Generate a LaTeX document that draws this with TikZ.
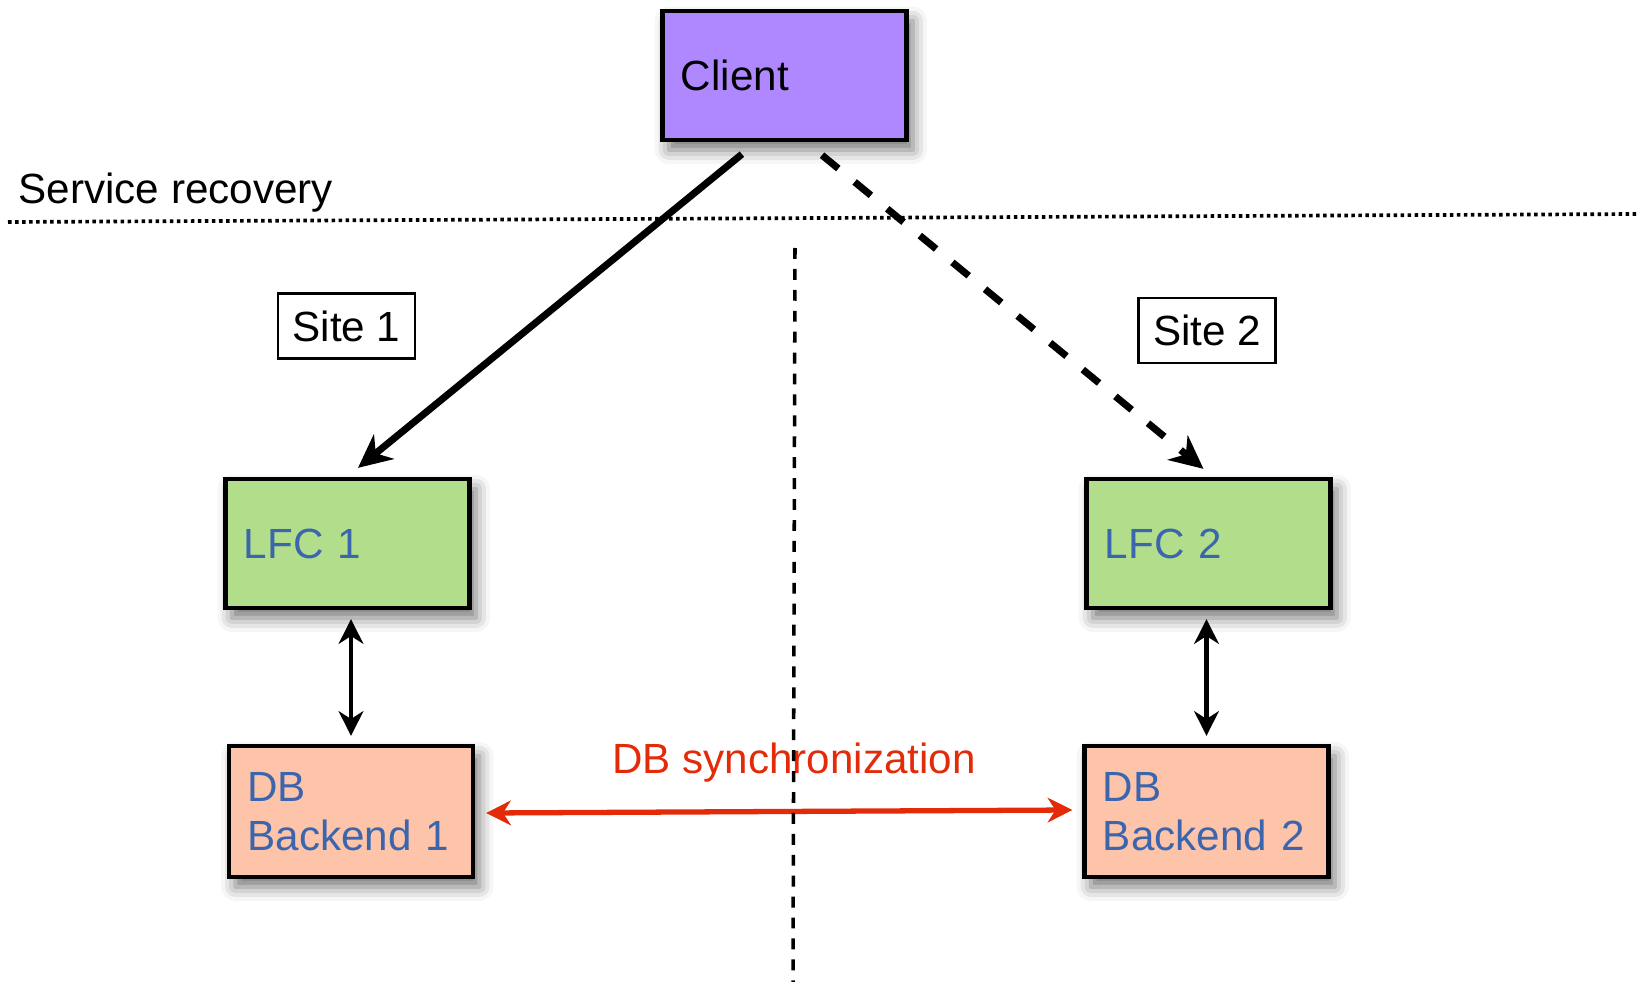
\documentclass[tikz,border=0pt]{standalone}
\usepackage{fontspec}
\setmainfont{Liberation Sans}
\usetikzlibrary{positioning, arrows.meta, shadows.blur}

\definecolor{clientpurple}{RGB}{175,135,254}
\definecolor{lfcgreen}{RGB}{178,221,139}
\definecolor{dbsalmon}{RGB}{253,196,170}
\definecolor{textblue}{RGB}{59,102,174}
\definecolor{syncred}{RGB}{227,43,10}

\begin{document}
\begin{tikzpicture}[
    x=0.01cm, y=-0.01cm,
    node distance=8.6cm,
    every node/.style={font=\fontsize{12}{14}\selectfont},
    block/.style={rectangle, draw=black, line width=1.2pt, text width=2.07cm, inner xsep=0.185cm, align=left, minimum height=1.29cm, blur shadow={shadow xshift=1.8pt, shadow yshift=-2.8pt, shadow blur radius=4pt, shadow opacity=55}},
    site/.style={rectangle, draw=black, line width=0.6pt, minimum width=1.37cm, minimum height=0.65cm},
    arrow/.style={-{Stealth[length=9.5pt, width=9pt, inset=3pt]}, line width=2pt},
    dblarrow/.style={{Stealth[length=7pt, width=7pt, inset=2.2pt]}-{Stealth[length=7pt, width=7pt, inset=2.2pt]}, line width=1.35pt},
    sync/.style={{Stealth[length=7pt, width=7pt, inset=2.2pt]}-{Stealth[length=7pt, width=7pt, inset=2.2pt]}, line width=1.5pt, draw=syncred}
]
    \useasboundingbox (0,0) rectangle (1639,982);

    % Nodes
    \node[block, fill=clientpurple] (client) at (784.5,75.5) {Client};
    \node[block, fill=lfcgreen, text=textblue] (lfc1) at (347.5,543.5) {LFC 1};
    \node[block, fill=lfcgreen, text=textblue, right of=lfc1, node distance=8.605cm] (lfc2) {LFC 2};
    \node[block, fill=dbsalmon, text=textblue, minimum height=1.31cm] (db1) at (351,811.5) {DB\\Backend 1};
    \node[block, fill=dbsalmon, text=textblue, minimum height=1.31cm, right of=db1, node distance=8.55cm] (db2) {DB\\Backend 2};

    \node[site] (site1) at (346.5,326) {Site 1};
    \node[site] (site2) at (1207,330.5) {Site 2};

    \node[anchor=base west, inner sep=0pt] (recovery) at (18,204) {Service recovery};
    \node[anchor=base, text=syncred] (synclabel) at (794,773) {DB synchronization};

    % Service recovery border
    \draw[line width=1.05pt, dash pattern=on 1pt off 1pt] (8,222) -- (1639,214);

    % Arrows
    \draw[arrow] ([xshift=-0.425cm, yshift=-0.12cm]client.south) -- ([xshift=0.105cm, yshift=0.09cm]lfc1.north);
    \draw[arrow, dash pattern=on 6pt off 6pt] ([xshift=0.375cm, yshift=-0.13cm]client.south) -- ([xshift=-0.05cm, yshift=0.08cm]lfc2.north);
    \draw[dblarrow, shorten <=0.09cm, shorten >=0.08cm] (lfc1.south -| db1.north) -- (db1.north);
    \draw[dblarrow, shorten <=0.09cm, shorten >=0.08cm] (lfc2.south -| db2.north) -- (db2.north);
    \draw[sync] ([xshift=0.11cm, yshift=-0.015cm]db1.east) -- ([xshift=-0.1cm, yshift=0.015cm]db2.west);

    % Site border
    \draw[line width=1pt, dash pattern=on 3.1pt off 2.85pt] (795,248) -- (793,982);

\end{tikzpicture}
\end{document}
